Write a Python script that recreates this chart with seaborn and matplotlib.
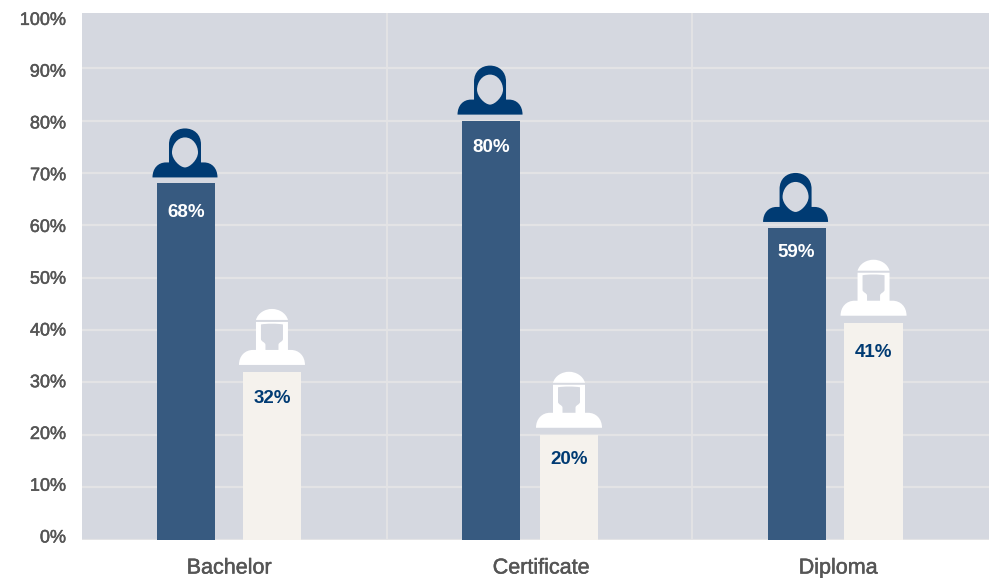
import pandas as pd
import matplotlib
matplotlib.use('Agg')
import matplotlib.pyplot as plt
import matplotlib.patheffects as pe
from matplotlib.path import Path
from matplotlib.patches import PathPatch
from matplotlib.transforms import Affine2D, ScaledTranslation
import seaborn as sns

categories = ['Bachelor', 'Certificate', 'Diploma']
female = [68, 80, 59.5]
male = [32, 20, 41.4]
female_labels = ['68%', '80%', '59%']
male_labels = ['32%', '20%', '41%']
y_ticks = [0, 10, 20, 30, 40, 50, 60, 70, 80, 90, 100]

BG = '#D5D8E0'
GRID = '#E3E3E5'
DARK = '#375A80'
LIGHT = '#F5F2ED'
NAVY = '#003B73'
TEXT = '#555555'

M, L, C, Z = Path.MOVETO, Path.LINETO, Path.CURVE4, Path.CLOSEPOLY


def make_path(cmds):
    verts, codes = [], []
    for code, pts in cmds:
        for p in pts:
            verts.append(p)
            codes.append(code)
    return Path(verts, codes)


# icons are in pixels, x from the bar centre and y up from the bar top
HIJAB = make_path([
    (M, [(-33.5, 6)]),
    (C, [(-33.5, 15), (-28, 21), (-20, 21)]),
    (L, [(-17, 21), (-17, 39)]),
    (C, [(-17, 49), (-10, 55), (-1, 55), (8, 55), (15, 49), (15, 39)]),
    (L, [(15, 21), (18, 21)]),
    (C, [(26, 21), (31.5, 15), (31.5, 6)]),
    (Z, [(0, 0)]),
])
HIJAB_FACE = make_path([
    (M, [(-1, 46)]),
    (C, [(7, 46), (12, 38), (12, 31), (12, 24), (4, 16), (-1, 16),
         (-6, 16), (-14, 24), (-14, 31), (-14, 38), (-9, 46), (-1, 46)]),
    (Z, [(0, 0)]),
])
GHUTRA = make_path([
    (M, [(-33, 7)]),
    (C, [(-33, 16), (-27, 22), (-19, 22)]),
    (L, [(-16, 22), (-16, 50), (16, 50), (16, 22), (19, 22)]),
    (C, [(27, 22), (33, 16), (33, 7)]),
    (Z, [(0, 0)]),
])
DOME = make_path([
    (M, [(-16, 52)]),
    (C, [(-14, 59), (-7, 63), (0, 63), (7, 63), (14, 59), (16, 52)]),
    (Z, [(0, 0)]),
])
MAN_FACE = make_path([
    (M, [(-11, 47.5)]),
    (L, [(-11, 33)]),
    (C, [(-11, 30), (-6.5, 30), (-6.5, 27)]),
    (L, [(-6.5, 22), (6.5, 22), (6.5, 27)]),
    (C, [(6.5, 30), (11, 30), (11, 33)]),
    (L, [(11, 47.5)]),
    (C, [(5, 48.5), (-5, 48.5), (-11, 47.5)]),
    (Z, [(0, 0)]),
])

df = pd.DataFrame({
    'category': categories * 2,
    'share': female + male,
    'group': ['Female'] * 3 + ['Male'] * 3,
})

sns.set_theme(style='white')
plt.rcParams['font.family'] = ['Liberation Sans', 'DejaVu Sans']

fig = plt.figure(figsize=(9.89, 5.78), dpi=100)
ax = fig.add_axes([82 / 989, 1 - 539.5 / 578, 907 / 989, 526.5 / 578])
ax.set_facecolor(BG)

sns.barplot(data=df, x='category', y='share', hue='group', order=categories,
            palette={'Female': DARK, 'Male': LIGHT}, width=0.508, gap=0.245,
            legend=False, saturation=1, linewidth=0, ax=ax, zorder=3)

ax.set_xlim(-0.485, 2.508)
ax.set_ylim(0, 100.55)
ax.set_yticks(y_ticks, [f'{v}%' for v in y_ticks])
ax.set_xlabel('')
ax.set_ylabel('')
ax.grid(axis='y', color=GRID, lw=1.6, zorder=1)
ax.get_ygridlines()[-1].set_visible(False)
ax.set_axisbelow(True)
for sep in [0.522, 1.528]:
    ax.axvline(sep, color=GRID, lw=1.4, zorder=1)
sns.despine(ax=ax, left=True, bottom=True, top=True, right=True)
ax.tick_params(axis='y', length=0, pad=11.5, labelsize=13, labelcolor=TEXT)
ax.tick_params(axis='x', length=0, pad=13, labelsize=15.5, labelcolor=TEXT)

# tick labels sit a little off the gridlines in the original
n = len(y_ticks) - 1
thick = [pe.withStroke(linewidth=0.35, foreground=TEXT)]
for i, lab in enumerate(ax.get_yticklabels()):
    lab.set_transform(lab.get_transform() + Affine2D().translate(0, 3.5 - 6 * i / n))
    lab.set_path_effects(thick)
for lab, dx in zip(ax.get_xticklabels(), [0, 9, 3]):
    lab.set_transform(lab.get_transform() + Affine2D().translate(dx, 0))
    lab.set_path_effects(thick)

# the original bars are not evenly dodged, shifts are in pixels
px = 1 / (907 / 2.993)
series = [
    (ax.containers[0], female_labels, 'white', [(HIJAB, NAVY), (HIJAB_FACE, BG)],
     [-4.5, -2.5, 0], [-3, -1, 2]),
    (ax.containers[1], male_labels, NAVY, [(GHUTRA, 'white'), (DOME, 'white'), (MAN_FACE, BG)],
     [4.5, -1.5, 0], [0, 2, -3]),
]
for container, labels, txt_col, icons, shifts, nudges in series:
    for bar, label, shift, nudge in zip(container, labels, shifts, nudges):
        bar.set_x(bar.get_x() + shift * px)
        cx = bar.get_x() + bar.get_width() / 2
        top = bar.get_height()
        anchor = ScaledTranslation(cx, top, ax.transData)
        for path, col in icons:
            ax.add_patch(PathPatch(path, facecolor=col, edgecolor='none',
                                   transform=anchor, zorder=4, clip_on=False))
        ax.annotate(label, (cx, top), xytext=(0, -19 + nudge * 0.72), textcoords='offset points',
                    ha='center', va='center', fontsize=13.5, fontweight='bold',
                    color=txt_col, zorder=5)

fig.savefig('out.png', dpi=100, facecolor='white')
